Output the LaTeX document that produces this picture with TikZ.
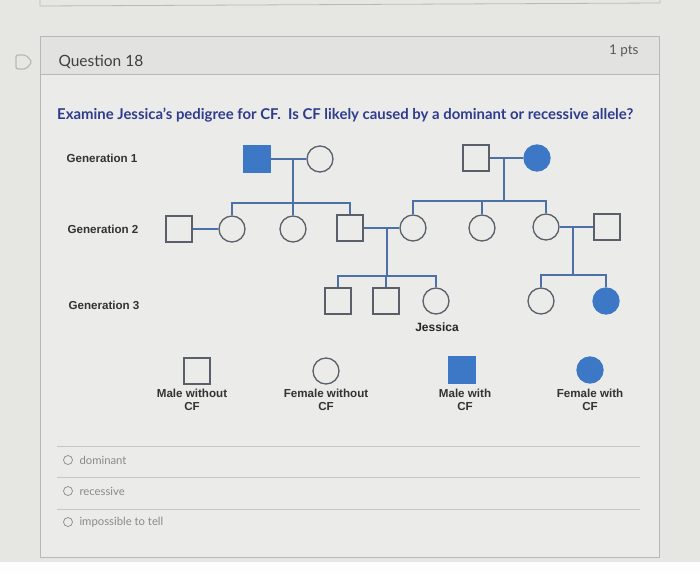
\documentclass[tikz,border=0pt]{standalone}
\usepackage{fontspec}
\setmainfont{Lato}
\newfontfamily\arialfont{Liberation Sans}
\definecolor{bgc}{HTML}{E6E6E3}
\definecolor{cardc}{HTML}{EBEBE9}
\definecolor{headc}{HTML}{E2E2E0}
\definecolor{borderc}{HTML}{B8B8B6}
\definecolor{cfblue}{HTML}{3C78C6}
\definecolor{linkc}{HTML}{4D70A6}
\definecolor{shapec}{HTML}{5A5F6A}
\definecolor{qblue}{HTML}{2F3C8E}
\definecolor{labc}{HTML}{333333}
\definecolor{optc}{HTML}{8A8A8A}
\begin{document}
\begin{tikzpicture}[x=1pt,y=-1pt,
  male/.style={draw=shapec,line width=1.3pt,rectangle,minimum size=26pt,inner sep=0pt},
  female/.style={draw=shapec,line width=1.3pt,circle,minimum size=26pt,inner sep=0pt},
  affm/.style={male,fill=cfblue,draw=cfblue},
  afff/.style={female,fill=cfblue,draw=cfblue},
  link/.style={draw=linkc,line width=1.6pt},
  genlab/.style={font=\arialfont\bfseries\fontsize{11.6}{13}\selectfont,text=labc,anchor=west},
  leglab/.style={font=\arialfont\bfseries\fontsize{11.6}{12.5}\selectfont,text=labc,align=center,anchor=north},
  opt/.style={font=\fontsize{11.3}{13}\selectfont,text=optc,anchor=west},
  radio/.style={draw=optc,circle,minimum size=9pt,inner sep=0pt,line width=0.7pt},
  sep/.style={draw=borderc!80,line width=0.6pt}]
\useasboundingbox (0,0) rectangle (700,573);
\fill[bgc] (0,0) rectangle (700,573);
\fill[white!94!bgc] (0,562) rectangle (700,573);
% previous card bottom
\draw[borderc,line width=0.8pt] (40,0) -- (40,6) -- (660,3) -- (660,0);
% card
\fill[cardc] (40,36) rectangle (659,557);
\fill[headc] (40,36) rectangle (659,74);
\draw[borderc,line width=0.9pt] (40,36) rectangle (659,557);
\draw[borderc,line width=0.9pt] (40,74) -- (659,74);
% flag icon
\draw[borderc,line width=1.2pt,rounded corners=2pt] (16,55) -- (26,55) -- (32,62) -- (26,69) -- (16,69) -- cycle;
\node[anchor=west,font=\fontsize{15.5}{18}\selectfont,text=black!75] (qtitle) at (55,62) {Question 18};
\node[anchor=east,font=\fontsize{13.5}{16}\selectfont,text=black!65] (pts) at (642,51) {1 pts};
\node[anchor=west,font=\bfseries\fontsize{14.9}{17}\selectfont,text=qblue,inner sep=0pt] (qtext) at (57,115) {Examine Jessica's pedigree for CF.\ \ Is CF likely caused by a dominant or recessive allele?};
% generation labels
\node[genlab] (gen1) at (63,158) {Generation 1};
\node[genlab] (gen2) at (64,229) {Generation 2};
\node[genlab] (gen3) at (65,305) {Generation 3};
% generation 1
\node[affm] (g1a) at (257,159) {};
\node[female] (g1b) at (320,159) {};
\node[male] (g1c) at (476,158) {};
\node[afff] (g1d) at (537,158) {};
% generation 2
\node[male] (g2a) at (179,229) {};
\node[female] (g2b) at (232,229) {};
\node[female] (g2c) at (293,229) {};
\node[male] (g2d) at (350,228) {};
\node[female] (g2e) at (413,228) {};
\node[female] (g2f) at (482,228) {};
\node[female] (g2g) at (546,227) {};
\node[male] (g2h) at (607,227) {};
% generation 3
\node[male] (g3a) at (338,301) {};
\node[male] (g3b) at (386,301) {};
\node[female] (g3c) at (436,301) {};
\node[female] (g3d) at (541,301) {};
\node[afff] (g3e) at (606,301) {};
\node[font=\arialfont\bfseries\fontsize{12}{14}\selectfont,text=black!85] (jess) at (437,327) {Jessica};
% marriage / sibship coordinates
\coordinate (m1) at (293,159);
\coordinate (s1) at (293,203);
\coordinate (m2) at (504,158);
\coordinate (s2) at (504,201);
\coordinate (m3) at (387,228);
\coordinate (s3) at (387,276);
\coordinate (m4) at (573,227);
\coordinate (s4) at (573,275);
% connectors gen1 left
\draw[link] (g1a.east) -- (g1b.west);
\draw[link] (m1) -- (s1);
\draw[link] (g2b.north) |- (s1) -| (g2d.north);
\draw[link] (s1) -- (g2c.north);
% gen1 right
\draw[link] (g1c.east) -- (g1d.west);
\draw[link] (m2) -- (s2);
\draw[link] (g2e.north) |- (s2) -| (g2g.north);
\draw[link] (g2f.north) -- (g2f.north |- s2);
% gen2 couples
\draw[link] (g2a.east) -- (g2b.west);
\draw[link] (g2d.east) -- (g2e.west);
\draw[link] (m3) -- (s3);
\draw[link] (g3a.north) |- (s3) -| (g3c.north);
\draw[link] (g3b.north) -- (g3b.north |- s3);
\draw[link] (g2g.east) -- (g2h.west);
\draw[link] (m4) -- (s4);
\draw[link] (g3d.north) |- (s4) -| (g3e.north);
% legend
\node[male] (lm) at (197,371) {};
\node[female] (lf) at (326,371) {};
\node[affm] (lam) at (462,370) {};
\node[afff] (laf) at (590,370) {};
\node[leglab] (llm) at (192,386) {Male without\\CF};
\node[leglab] (llf) at (326,386) {Female without\\CF};
\node[leglab] (llam) at (465,386) {Male with\\CF};
\node[leglab] (llaf) at (590,386) {Female with\\CF};
% options
\draw[sep] (57,446) -- (640,446);
\draw[sep] (57,477) -- (640,477);
\draw[sep] (57,509) -- (640,509);
\node[radio] (r1) at (68,460) {};
\node[radio] (r2) at (68,491) {};
\node[radio] (r3) at (68,522) {};
\node[opt] (o1) at (76,460) {dominant};
\node[opt] (o2) at (76,491) {recessive};
\node[opt] (o3) at (76,522) {impossible to tell};
\end{tikzpicture}
\end{document}
